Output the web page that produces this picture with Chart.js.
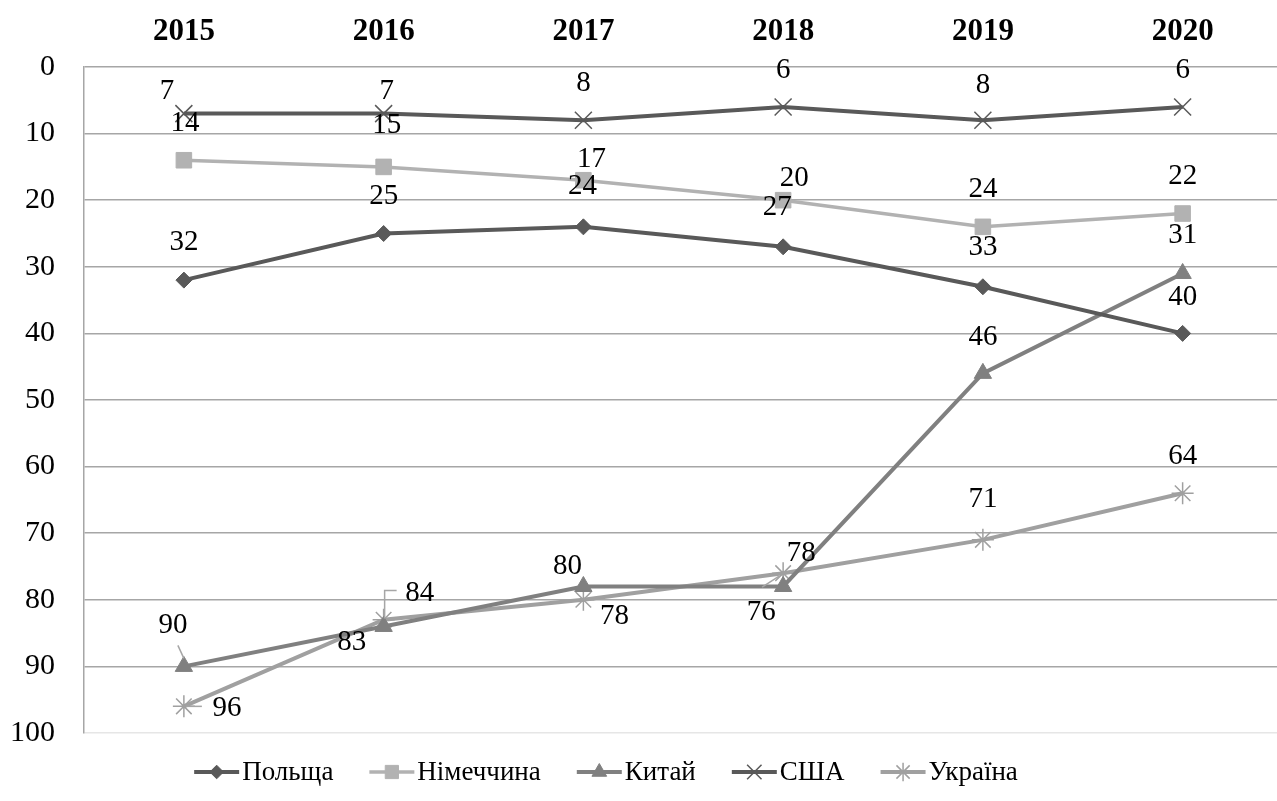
<!DOCTYPE html>
<html>
<head>
<meta charset="utf-8">
<script src="https://cdn.jsdelivr.net/npm/chart.js@4.4.1/dist/chart.umd.min.js"></script>
<style>
html, body { margin: 0; padding: 0; background: #fff; overflow: hidden; }
#obg { width: 1296px; height: 801px; }
</style>
</head>
<body>
<div id="obg"><canvas id="grafRang"></canvas></div>
<script>
// роки та місця в рейтингу
const roky = ['2015', '2016', '2017', '2018', '2019', '2020'];
const polshcha = [32, 25, 24, 27, 33, 40];
const nimechchyna = [14, 15, 17, 20, 24, 22];
const kytai = [90, 84, 78, 78, 46, 31];
const ssha = [7, 7, 8, 6, 8, 6];
const ukraina = [96, 83, 80, 76, 71, 64];
const shkala = [0, 10, 20, 30, 40, 50, 60, 70, 80, 90, 100];

// зсуви підписів відносно точок (як у вихідному рисунку)
const zsuvy = [
    [[0, -38], [0, -37], [-1, -40], [-6, -39], [0, -39], [0, -36]],
    [[1, -37], [3, -42], [8, -21], [11, -22], [0, -37], [0, -37]],
    [[-11, -41], [36, -33], [31, 30], [18, -33], [0, -36], [0, -38]],
    [[-17, -22], [3, -22], [0, -37], [0, -37], [0, -35], [0, -37]],
    [[43, 2], [-32, 23], [-16, -33], [-22, 39], [0, -40], [0, -37]]
];
// виносні лінії: [набір, точка, [[dx,dy],...]]
const vynosky = [
    [2, 0, [[-6, -21], [0, -8]]],
    [4, 0, [[2, 0], [18, 0]]],
    [2, 1, [[1, -8], [1, -36], [13, -36]]],
    [4, 3, [[-4, 3], [-21, 14]]]
];

const shryft = '"Liberation Serif", "Times New Roman", serif';

const pidpysy = {
    id: 'pidpysy',
    afterDatasetsDraw(chart) {
        const ctx = chart.ctx;
        ctx.save();
        ctx.strokeStyle = '#a6a6a6';
        ctx.lineWidth = 1.5;
        vynosky.forEach(function(v) {
            const pt = chart.getDatasetMeta(v[0]).data[v[1]];
            ctx.beginPath();
            v[2].forEach(function(p, k) {
                if (k === 0) ctx.moveTo(pt.x + p[0], pt.y + p[1]);
                else ctx.lineTo(pt.x + p[0], pt.y + p[1]);
            });
            ctx.stroke();
        });
        ctx.font = '29px ' + shryft;
        ctx.fillStyle = '#000';
        ctx.textAlign = 'center';
        ctx.textBaseline = 'middle';
        chart.data.datasets.forEach(function(ds, i) {
            chart.getDatasetMeta(i).data.forEach(function(pt, j) {
                const z = zsuvy[i][j];
                ctx.fillText(String(ds.data[j]), pt.x + z[0], pt.y + z[1]);
            });
        });
        ctx.restore();
    }
};

const legenda = {
    id: 'legenda',
    afterDraw(chart) {
        const ctx = chart.ctx;
        const dovz = 45, vidst = 3, prom = 36, y = 772;
        ctx.save();
        ctx.font = '27px ' + shryft;
        ctx.textBaseline = 'middle';
        ctx.textAlign = 'left';
        const shyr = chart.data.datasets.map(function(ds) {
            return dovz + vidst + ctx.measureText(ds.label).width;
        });
        let x = 606 - (shyr.reduce(function(a, b) { return a + b; }, 0) + prom * (shyr.length - 1)) / 2;
        chart.data.datasets.forEach(function(ds, i) {
            ctx.strokeStyle = ds.borderColor;
            ctx.lineWidth = ds.borderWidth;
            ctx.beginPath();
            ctx.moveTo(x, y);
            ctx.lineTo(x + dovz, y);
            ctx.stroke();
            ctx.fillStyle = ds.pointBackgroundColor;
            ctx.strokeStyle = ds.pointBorderColor;
            ctx.lineWidth = ds.pointBorderWidth;
            Chart.helpers.drawPoint(ctx, {
                pointStyle: ds.pointStyle,
                radius: ds.pointRadius * 0.85,
                borderWidth: ds.pointBorderWidth,
                rotation: 0
            }, x + dovz / 2, y);
            ctx.fillStyle = '#000';
            ctx.fillText(ds.label, x + dovz + vidst, y + 1);
            x += shyr[i] + prom;
        });
        ctx.restore();
    }
};

function nabir(nazva, dani, kolir, styl, rad, tovsh) {
    return {
        label: nazva,
        data: dani,
        borderColor: kolir,
        backgroundColor: kolir,
        borderWidth: tovsh,
        pointStyle: styl,
        pointRadius: rad,
        pointHoverRadius: rad,
        pointBackgroundColor: kolir,
        pointBorderColor: kolir,
        pointBorderWidth: (styl === 'crossRot' || styl === 'star') ? 1.5 : 1,
        tension: 0
    };
}

const ctx = document.getElementById('grafRang').getContext('2d');
window.mGraf = new Chart(ctx, {
    type: 'line',
    data: {
        labels: roky,
        datasets: [
            nabir('Польща', polshcha, '#595959', 'rectRot', 8, 4),
            nabir('Німеччина', nimechchyna, '#b2b2b2', 'rect', 11, 3.5),
            nabir('Китай', kytai, '#808080', 'triangle', 10, 4),
            nabir('США', ssha, '#595959', 'crossRot', 12, 4),
            nabir('Україна', ukraina, '#a0a0a0', 'star', 11, 4)
        ]
    },
    options: {
        responsive: true,
        maintainAspectRatio: false,
        animation: false,
        layout: { padding: { left: 0, right: 0, top: 0, bottom: 68 } },
        plugins: {
            legend: { display: false },
            tooltip: { enabled: false }
        },
        scales: {
            x: {
                position: 'top',
                offset: true,
                grid: { display: false, drawTicks: false, offset: true },
                border: { display: false },
                ticks: {
                    color: '#000',
                    font: { family: shryft, size: 31, weight: 'bold' },
                    padding: 16
                },
                afterFit: function(s) { s.height = 67; }
            },
            y: {
                reverse: true,
                min: 0,
                max: 100,
                afterBuildTicks: function(s) {
                    s.ticks = shkala.map(function(v) { return { value: v }; });
                },
                grid: {
                    drawTicks: false,
                    lineWidth: 1.5,
                    color: function(c) {
                        return c.tick && c.tick.value === 100 ? '#e6e6e6' : '#a6a6a6';
                    }
                },
                border: { display: true, color: '#a6a6a6', width: 1.5 },
                ticks: {
                    color: '#000',
                    font: { family: shryft, size: 30 },
                    padding: 29
                },
                afterFit: function(s) { s.width = 84; }
            }
        }
    },
    plugins: [pidpysy, legenda]
});
</script>
</body>
</html>
